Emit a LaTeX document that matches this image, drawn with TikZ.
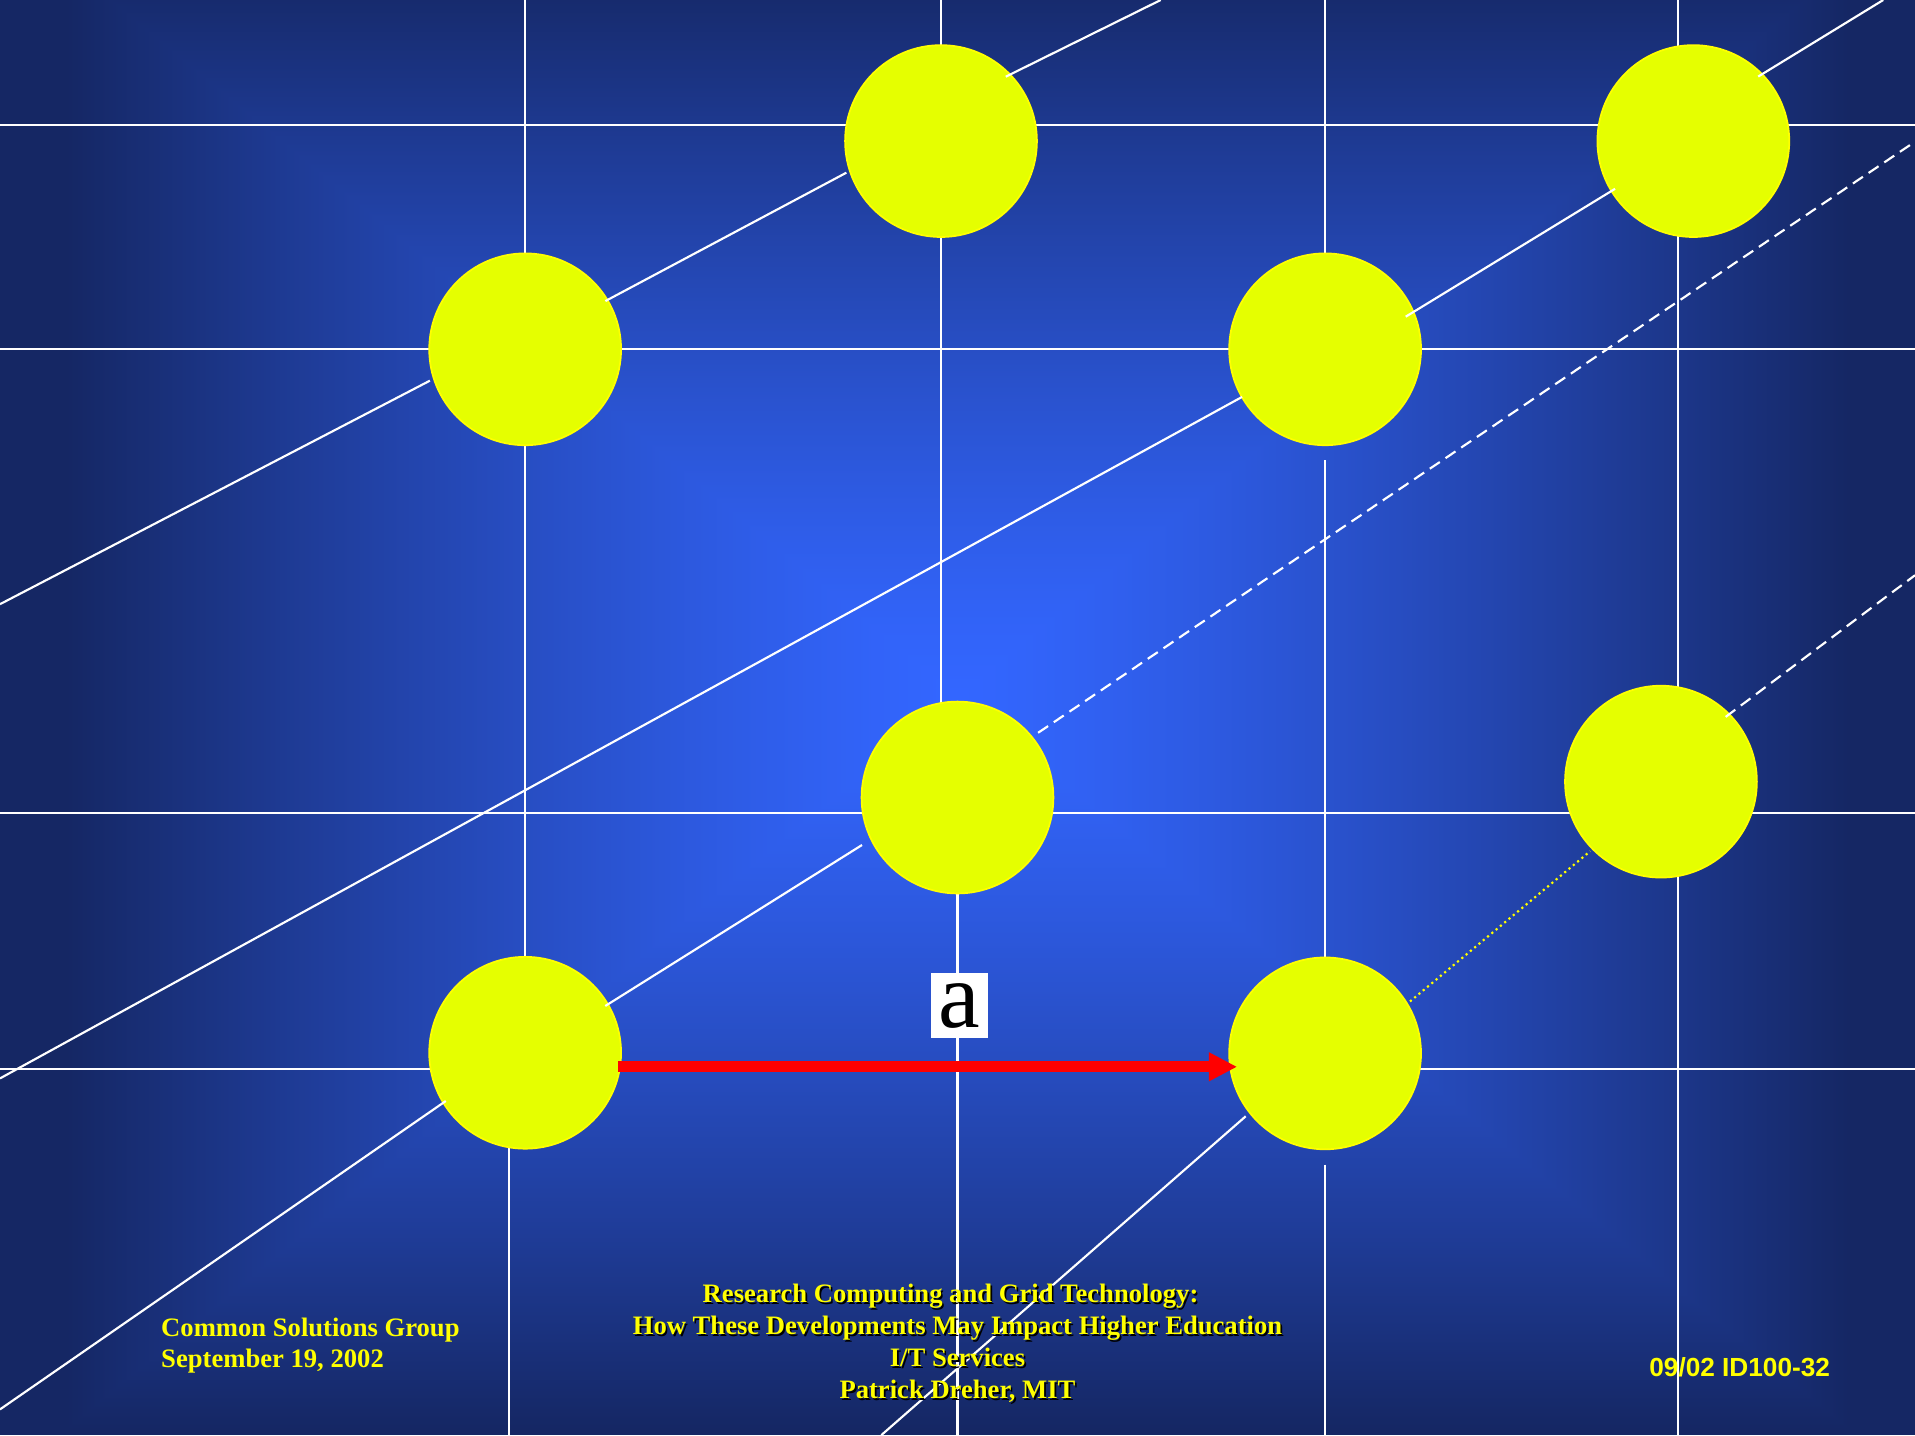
\documentclass[tikz,border=0pt]{standalone}
\usepackage{fontspec}
\setmainfont{Liberation Serif}
\newfontfamily\arialfont{Liberation Sans}
\usetikzlibrary{arrows.meta}

\definecolor{ball}{RGB}{229,255,0}
\definecolor{ballrim}{RGB}{255,255,0}
\definecolor{txtyellow}{RGB}{255,255,0}
\definecolor{edgeblue}{RGB}{21,39,100}
\definecolor{arrowred}{RGB}{255,0,0}

\pgfdeclarefunctionalshading{bgrect}{\pgfpoint{-50bp}{-50bp}}{\pgfpoint{50bp}{50bp}}{}{%
abs 25 div exch abs 25 div 2 copy lt {exch} if pop dup 1 gt {pop 1} if 1.3 exp dup -0.118 mul 0.2 add exch dup -0.247 mul 0.4 add exch -0.608 mul 1.0 add}

\newcommand{\ttlfont}{\bfseries\fontsize{6.2}{7.4}\selectfont}

\begin{document}
\begin{tikzpicture}[x=0.01cm,y=-0.01cm,
  gridline/.style={white, line width=0.5pt},
  gdash/.style={white, line width=0.5pt, dash pattern=on 2.8pt off 1.6pt},
  gdot/.style={txtyellow, line width=0.5pt, dash pattern=on 0.5pt off 0.8pt},
  ballnode/.style={circle, fill=ball, draw=ballrim, line width=0.4pt, minimum size=1.57cm, inner sep=0pt},
  ttl/.style={anchor=base, inner sep=0pt, outer sep=0pt, font=\ttlfont, text=txtyellow},
  ttlshadow/.style={anchor=base, inner sep=0pt, outer sep=0pt, font=\ttlfont, text=black, xshift=0.4pt, yshift=-0.4pt},
  lefttxt/.style={anchor=base west, inner sep=0pt, outer sep=0pt, font=\ttlfont, text=txtyellow}]

\useasboundingbox (0,0) rectangle (1568,1175);
\fill[edgeblue] (0,0) rectangle (1568,1175);
\shade[shading=bgrect] (54,-30) rectangle (1514,1170);

% horizontal grid lines
\draw[gridline] (0,102.4) -- (1568,102.4);
\draw[gridline] (0,286) -- (1568,286);
\draw[gridline] (0,665.5) -- (1568,665.5);
\draw[gridline] (0,875) -- (1568,875);
% vertical grid lines
\draw[gridline] (430,0) -- (430,862);
\draw[gridline] (417,930) -- (417,1175);
\draw[gridline] (770.5,0) -- (770.5,653);
\draw[gridline] (784,653) -- (784,1175);
\draw[gridline] (1085,0) -- (1085,286);
\draw[gridline] (1085,377) -- (1085,862);
\draw[gridline] (1085,953.5) -- (1085,1175);
\draw[gridline] (1373.7,0) -- (1373.7,1175);

% balls
\node[ballnode] (c1) at (430,286) {};
\node[ballnode] (c2) at (770.5,115.5) {};
\node[ballnode] (c3) at (1085,286) {};
\node[ballnode] (c4) at (1386.5,115.5) {};
\node[ballnode] (c5) at (784,653) {};
\node[ballnode] (c6) at (1360,640) {};
\node[ballnode] (c7) at (430,862) {};
\node[ballnode] (c8) at (1085,862.5) {};

% diagonals
\draw[gridline] (0,494.7) -- (352,311.7);
\draw[gridline] (495.7,246.5) -- (693,141.4);
\draw[gridline] (823.5,62.8) -- (950.4,0);
\draw[gridline] (0,883) -- (1017,325);
\draw[gridline] (1151,259.3) -- (1322.4,154.6);
\draw[gridline] (1439.6,62.7) -- (1542,0);
\draw[gridline] (0,1154) -- (365,901.5);
\draw[gridline] (495.6,823.7) -- (705.8,691.9);
\draw[gridline] (721.7,1175) -- (1020,914);
\draw[gdash] (850,600) -- (1568,116);
\draw[gdash] (1413,587) -- (1568,471);
\draw[gdot] (1154.5,820) -- (1302,697);

% red arrow
\coordinate (aS) at (506,873.5);
\coordinate (aE) at (1013,873.5);
\draw[arrowred, line width=2.6pt, -{Triangle[length=6.6pt,width=6.3pt]}] (aS) -- (aE);

% label a
\node[fill=white, minimum width=0.47cm, minimum height=0.53cm, inner sep=0pt,
      font=\fontsize{21.8}{22}\selectfont] (lbl) at (785.5,823.5) {a};

% footer texts
\node[lefttxt] (org) at (132,1094) {Common Solutions Group};
\node[lefttxt] (date) at (132,1119.5) {September 19, 2002};

\node[ttlshadow] at (778.3,1066.6) {Research Computing and Grid Technology:};
\node[ttl] (t1) at (778.3,1066.6) {Research Computing and Grid Technology:};
\node[ttlshadow] at (784,1093) {How These Developments May Impact Higher Education};
\node[ttl] (t2) at (784,1093) {How These Developments May Impact Higher Education};
\node[ttlshadow] at (784,1119) {I/T Services};
\node[ttl] (t3) at (784,1119) {I/T Services};
\node[ttlshadow] at (784,1145) {Patrick Dreher, MIT};
\node[ttl] (t4) at (784,1145) {Patrick Dreher, MIT};

\node[anchor=base west, inner sep=0pt, outer sep=0pt, font=\arialfont\bfseries\fontsize{6.1}{7}\selectfont, text=txtyellow] (code) at (1350.5,1127) {09/02 ID100-32};
\end{tikzpicture}
\end{document}
